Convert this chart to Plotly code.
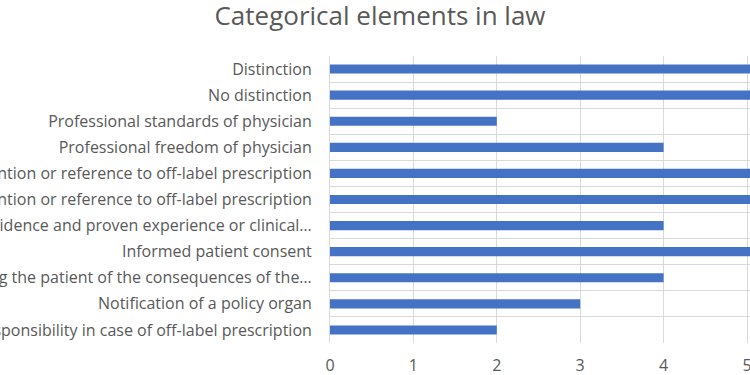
import plotly.graph_objects as go

categories = [
    "Distinction",
    "No distinction",
    "Professional standards of physician",
    "Professional freedom of physician",
    "Explicit mention or reference to off-label prescription",
    "No explicit mention or reference to off-label prescription",
    "Scientific evidence and proven experience or clinical…",
    "Informed patient consent",
    "Informing the patient of the consequences of the…",
    "Notification of a policy organ",
    "Responsibility in case of off-label prescription",
]
values = [6, 6, 2, 4, 6, 6, 4, 6, 4, 3, 2]
x_ticks = [0, 1, 2, 3, 4, 5]

FONT = "Open Sans"
GRAY = "#595959"

fig = go.Figure(
    go.Bar(
        x=values,
        y=categories,
        orientation="h",
        marker=dict(color="#4472C4", line=dict(width=0)),
        hoverinfo="x+y",
    )
)

fig.update_layout(
    width=800,
    height=375,
    margin=dict(l=330, r=0, t=56, b=32, autoexpand=False),
    paper_bgcolor="white",
    plot_bgcolor="white",
    bargap=0.65,
    showlegend=False,
    title=dict(
        text="Categorical elements in law",
        font=dict(family=FONT, size=26, color=GRAY),
        x=380 / 800,
        xref="container",
        xanchor="center",
        y=0.958,
        yref="container",
        yanchor="middle",
    ),
    font=dict(family=FONT, color=GRAY),
)

fig.update_xaxes(
    range=[0, 470 / 83.4],
    tickvals=x_ticks,
    ticktext=[str(v) for v in x_ticks],
    showgrid=True,
    gridcolor="#D9D9D9",
    gridwidth=1,
    zeroline=False,
    showline=False,
    tickfont=dict(family=FONT, size=16, color=GRAY),
    ticks="",
    ticklabelstandoff=11,
    fixedrange=True,
)

fig.update_yaxes(
    autorange="reversed",
    categoryorder="array",
    categoryarray=categories,
    tickson="boundaries",
    showgrid=True,
    gridcolor="#D9D9D9",
    gridwidth=1,
    showline=True,
    linecolor="#D9D9D9",
    linewidth=1,
    ticks="",
    tickfont=dict(family=FONT, size=16, color=GRAY),
    ticklabelstandoff=14,
    automargin=False,
    fixedrange=True,
)

fig.write_html(
    "out.html",
    config={"displayModeBar": False},
    post_script="document.body.style.margin='0';document.body.style.overflow='hidden';",
)
